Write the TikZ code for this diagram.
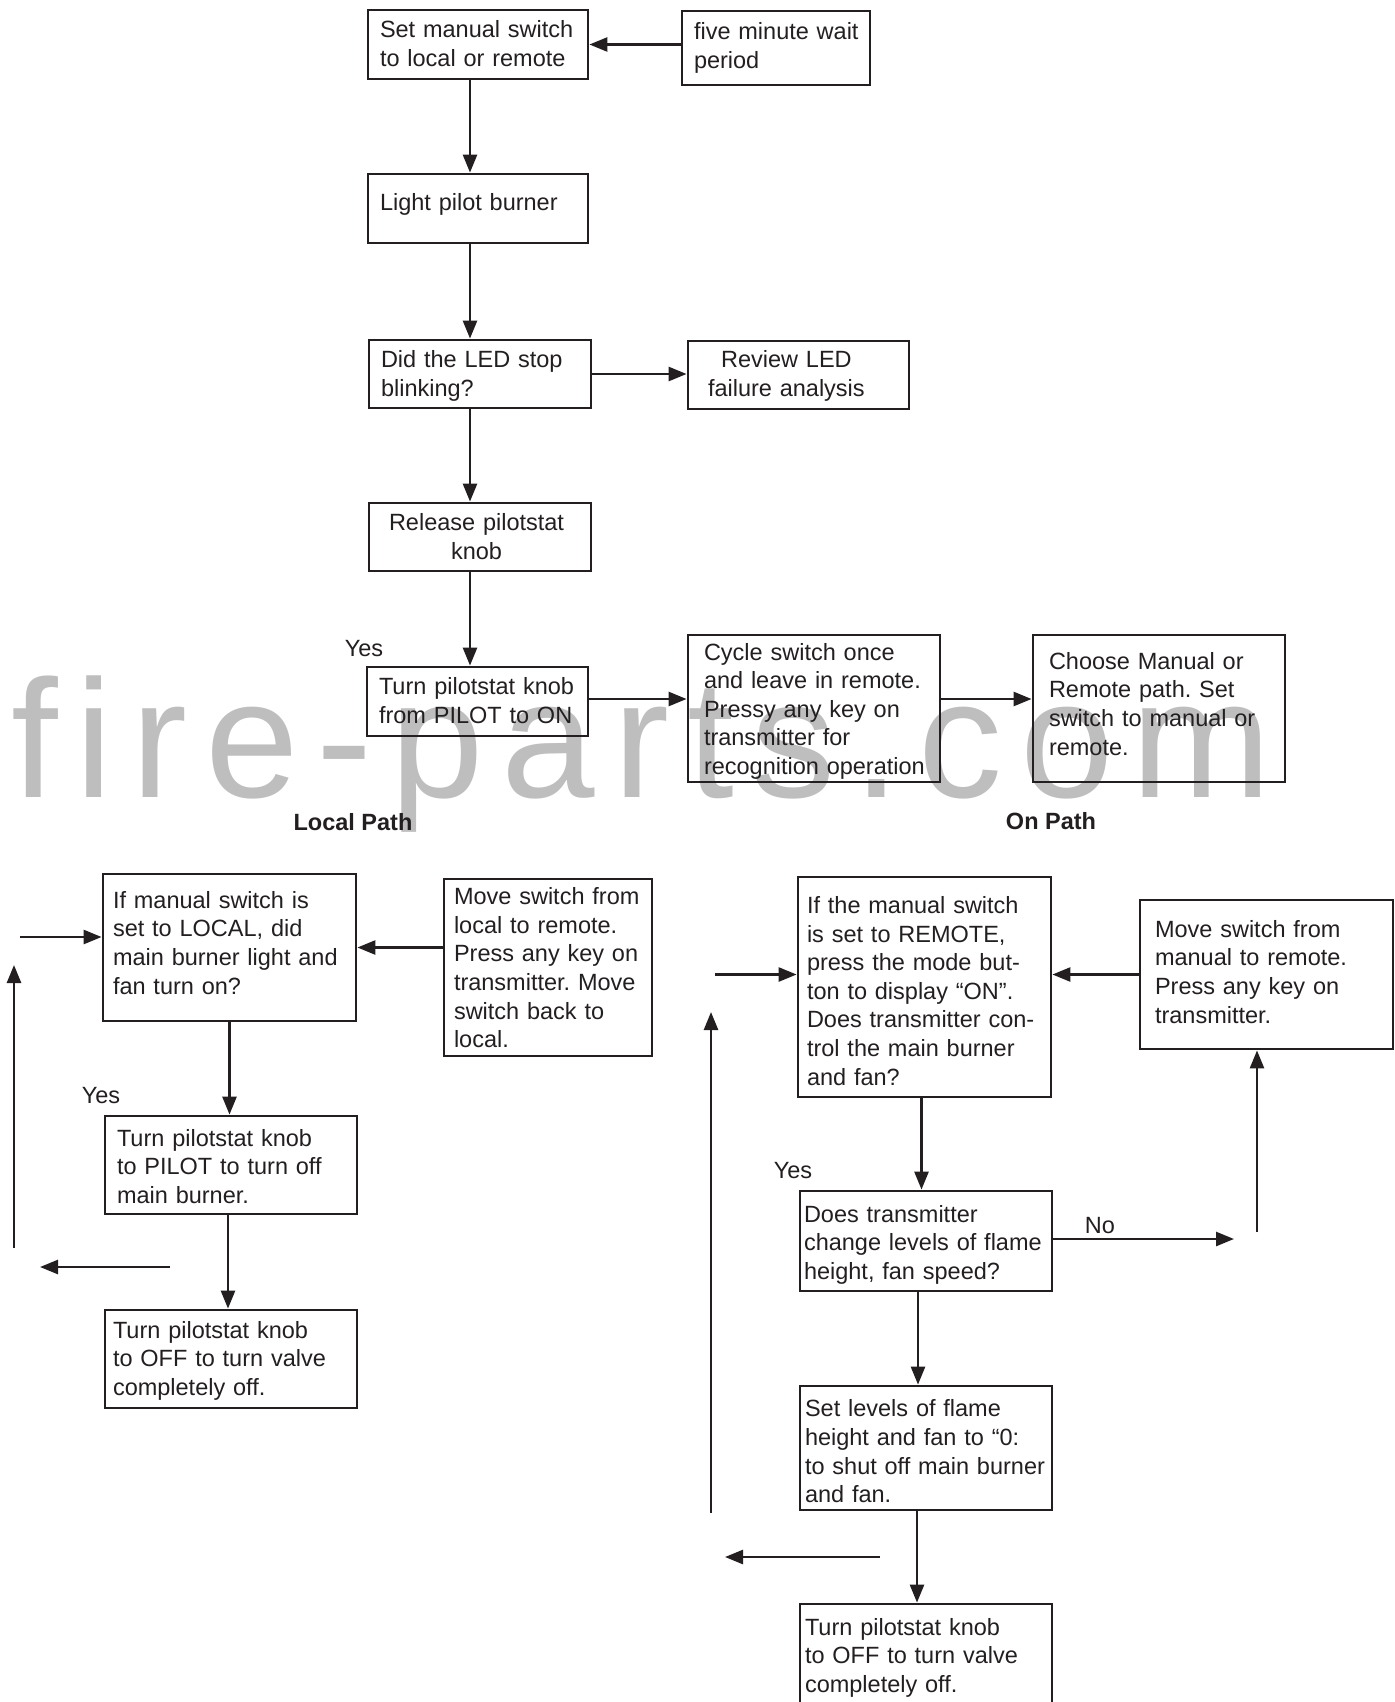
\documentclass[tikz,border=0pt]{standalone}
\usepackage{fontspec}
\setmainfont{Liberation Sans}
\newfontfamily\wmfont[LetterSpace=10.7]{Liberation Sans}
\usetikzlibrary{arrows.meta}
\definecolor{ink}{RGB}{35,31,32}
\definecolor{wm}{RGB}{190,190,190}
\frenchspacing
\newcommand\bxt[2][-1pt]{\raisebox{#1}[\height][\depth]{\begin{tabular}{@{}l@{}}#2\end{tabular}}}
\newcommand\bxc[2][-1pt]{\raisebox{#1}[\height][\depth]{\begin{tabular}{@{}c@{}}#2\end{tabular}}}
\tikzset{
  bx/.style={draw=ink, line width=1.4pt, rectangle, inner ysep=0pt, align=left,
    text=ink, font=\fontsize{11.75}{14.3}\selectfont\frenchspacing},
  arr/.style={draw=ink, line width=1.3pt, -{Triangle[length=9pt,width=7pt]}},
  lbl/.style={text=ink, inner sep=0pt, font=\fontsize{11.75}{14.3}\selectfont},
  blbl/.style={text=ink, inner sep=0pt, font=\fontsize{11.75}{14.3}\selectfont\bfseries},
}
\begin{document}
\begin{tikzpicture}[x=0.5pt,y=-0.5pt]
\useasboundingbox (0,0) rectangle (1394,1702);
% watermark
\node[anchor=base west, inner sep=0pt, text=wm, font=\wmfont\fontsize{84}{96}\selectfont] (wmark) at (11,797) {fire-parts.com};

% top chain
\node[bx, text width=98pt, inner xsep=6pt, minimum height=34.5pt] (set) at (478,44.5) {\bxt{Set manual switch\\to local or remote}};
\node[bx, text width=82pt, inner xsep=6pt, minimum height=37pt] (five) at (776,48) {\bxt[0pt]{five minute wait\\period}};
\node[bx, text width=98pt, inner xsep=6pt, minimum height=34.5pt] (light) at (478,208.5) {\bxt[1.75pt]{Light pilot burner}};
\node[bx, text width=99pt, inner xsep=6pt, minimum height=34pt] (led) at (480,374) {\bxt{Did the LED stop\\blinking?}};
\node[bx, text width=90.5pt, inner xsep=10pt, minimum height=34pt] (review) at (798.5,375) {\bxc[-0.5pt]{Review LED\\failure analysis}};
\node[bx, text width=91pt, inner xsep=10pt, minimum height=34pt] (release) at (480,537) {\bxc{Release pilotstat\\knob}};
\node[bx, text width=98.5pt, inner xsep=6pt, minimum height=34.5pt] (turnon) at (477.5,701.5) {\bxt{Turn pilotstat knob\\from PILOT to ON}};
\node[bx, text width=110pt, inner xsep=8pt, minimum height=73.5pt] (cycle) at (814,708.5) {\bxt[-1.5pt]{Cycle switch once\\and leave in remote.\\Pressy any key on\\transmitter for\\recognition operation}};
\node[bx, text width=110pt, inner xsep=8pt, minimum height=73.5pt] (choose) at (1159,708.5) {\bxt[1pt]{Choose Manual or\\Remote path. Set\\switch to manual or\\remote.}};

\node[lbl] (yes1) at (364,649) {Yes};
\node[blbl] (localpath) at (353,822) {Local Path};
\node[blbl] (onpath) at (1051,821) {On Path};

% local path
\node[bx, text width=116.5pt, inner xsep=5pt, minimum height=73.5pt] (lq) at (229.5,947.5) {\bxt[1pt]{If manual switch is\\set to LOCAL, did\\main burner light and\\fan turn on?}};
\node[bx, text width=94pt, inner xsep=5pt, minimum height=88.5pt] (lmove) at (548,967.5) {\bxt[-1.5pt]{Move switch from\\local to remote.\\Press any key on\\transmitter. Move\\switch back to\\local.}};
\node[bx, text width=114pt, inner xsep=6pt, minimum height=49pt] (lpilot) at (231,1165) {\bxt[-2pt]{Turn pilotstat knob\\to PILOT to turn off\\main burner.}};
\node[bx, text width=118pt, inner xsep=4pt, minimum height=49pt] (loff) at (231,1359) {\bxt{Turn pilotstat knob\\to OFF to turn valve\\completely off.}};
\node[lbl] (yes2) at (101,1096) {Yes};

% on path
\node[bx, text width=117.5pt, inner xsep=4.5pt, minimum height=110pt] (rq) at (924.5,987) {\bxt[-3.25pt]{If the manual switch\\is set to REMOTE,\\press the mode but-\\ton to display “ON”.\\Does transmitter con-\\trol the main burner\\and fan?}};
\node[bx, text width=111.5pt, inner xsep=7.5pt, minimum height=74.5pt] (rmove) at (1266.5,974.5) {\bxt[0pt]{Move switch from\\manual to remote.\\Press any key on\\transmitter.}};
\node[bx, text width=122pt, inner xsep=2pt, minimum height=50pt] (rdoes) at (926,1241) {\bxt[-2pt]{Does transmitter\\change levels of flame\\height, fan speed?}};
\node[bx, text width=121pt, inner xsep=2.5pt, minimum height=62pt] (rset) at (926,1448) {\bxt[-3pt]{Set levels of flame\\height and fan to “0:\\to shut off main burner\\and fan.}};
\node[bx, text width=121pt, inner xsep=2.5pt, minimum height=54pt] (roff) at (926,1658) {\bxt[0pt]{Turn pilotstat knob\\to OFF to turn valve\\completely off.}};
\node[lbl] (yes3) at (793,1171) {Yes};
\node[lbl] (no) at (1100,1226) {No};

% free ends
\coordinate (lin) at (20,937);
\coordinate (lupB) at (14,1248);
\coordinate (lupT) at (14,965);
\coordinate (lbackS) at (170,1267);
\coordinate (lbackE) at (40,1267);
\coordinate (rin) at (715,974.5);
\coordinate (rupB) at (711,1513);
\coordinate (rupT) at (711,1012);
\coordinate (noend) at (1234,1239);
\coordinate (rupS) at (1257,1232);
\coordinate (rbackS) at (880,1557);
\coordinate (rbackE) at (725,1557);

% top connectors
\draw[arr] (set.east -| five.west) -- (set.east);
\draw[arr] ([xshift=-4pt]set.south) -- ([xshift=-4pt]set.south |- light.north);
\draw[arr] ([xshift=-4pt]light.south) -- ([xshift=-4pt]light.south |- led.north);
\draw[arr] (led.east) -- (led.east -| review.west);
\draw[arr] ([xshift=-5pt]led.south) -- ([xshift=-5pt]led.south |- release.north);
\draw[arr] ([xshift=-5pt]release.south) -- ([xshift=-5pt]release.south |- turnon.north);
\draw[arr] ([yshift=1.25pt]turnon.east) -- ([yshift=1.25pt]turnon.east -| cycle.west);
\draw[arr] ([yshift=4.75pt]cycle.east) -- ([yshift=4.75pt]choose.west);

% local connectors
\draw[arr] (lin) -- (lin -| lq.west);
\draw[arr] (lupB) -- (lupT);
\draw[arr] (lbackS) -- (lbackE);
\draw[arr] (lq.east -| lmove.west) -- (lq.east);
\draw[arr] (lq.south) -- (lq.south |- lpilot.north);
\draw[arr] ([xshift=-1.5pt]lpilot.south) -- ([xshift=-1.5pt]lpilot.south |- loff.north);

% on connectors
\draw[arr] (rin) -- (rin -| rq.west);
\draw[arr] (rupB) -- (rupT);
\draw[arr] (rmove.west) -- (rmove.west -| rq.east);
\draw[arr] ([xshift=-1.5pt]rq.south) -- ([xshift=-1.5pt]rq.south |- rdoes.north);
\draw[arr] (rdoes.east |- noend) -- (noend);
\draw[arr] (rupS) -- (rupS |- rmove.south);
\draw[arr] ([xshift=-4pt]rdoes.south) -- ([xshift=-4pt]rdoes.south |- rset.north);
\draw[arr] ([xshift=-4.5pt]rset.south) -- ([xshift=-4.5pt]rset.south |- roff.north);
\draw[arr] (rbackS) -- (rbackE);
\end{tikzpicture}
\end{document}
